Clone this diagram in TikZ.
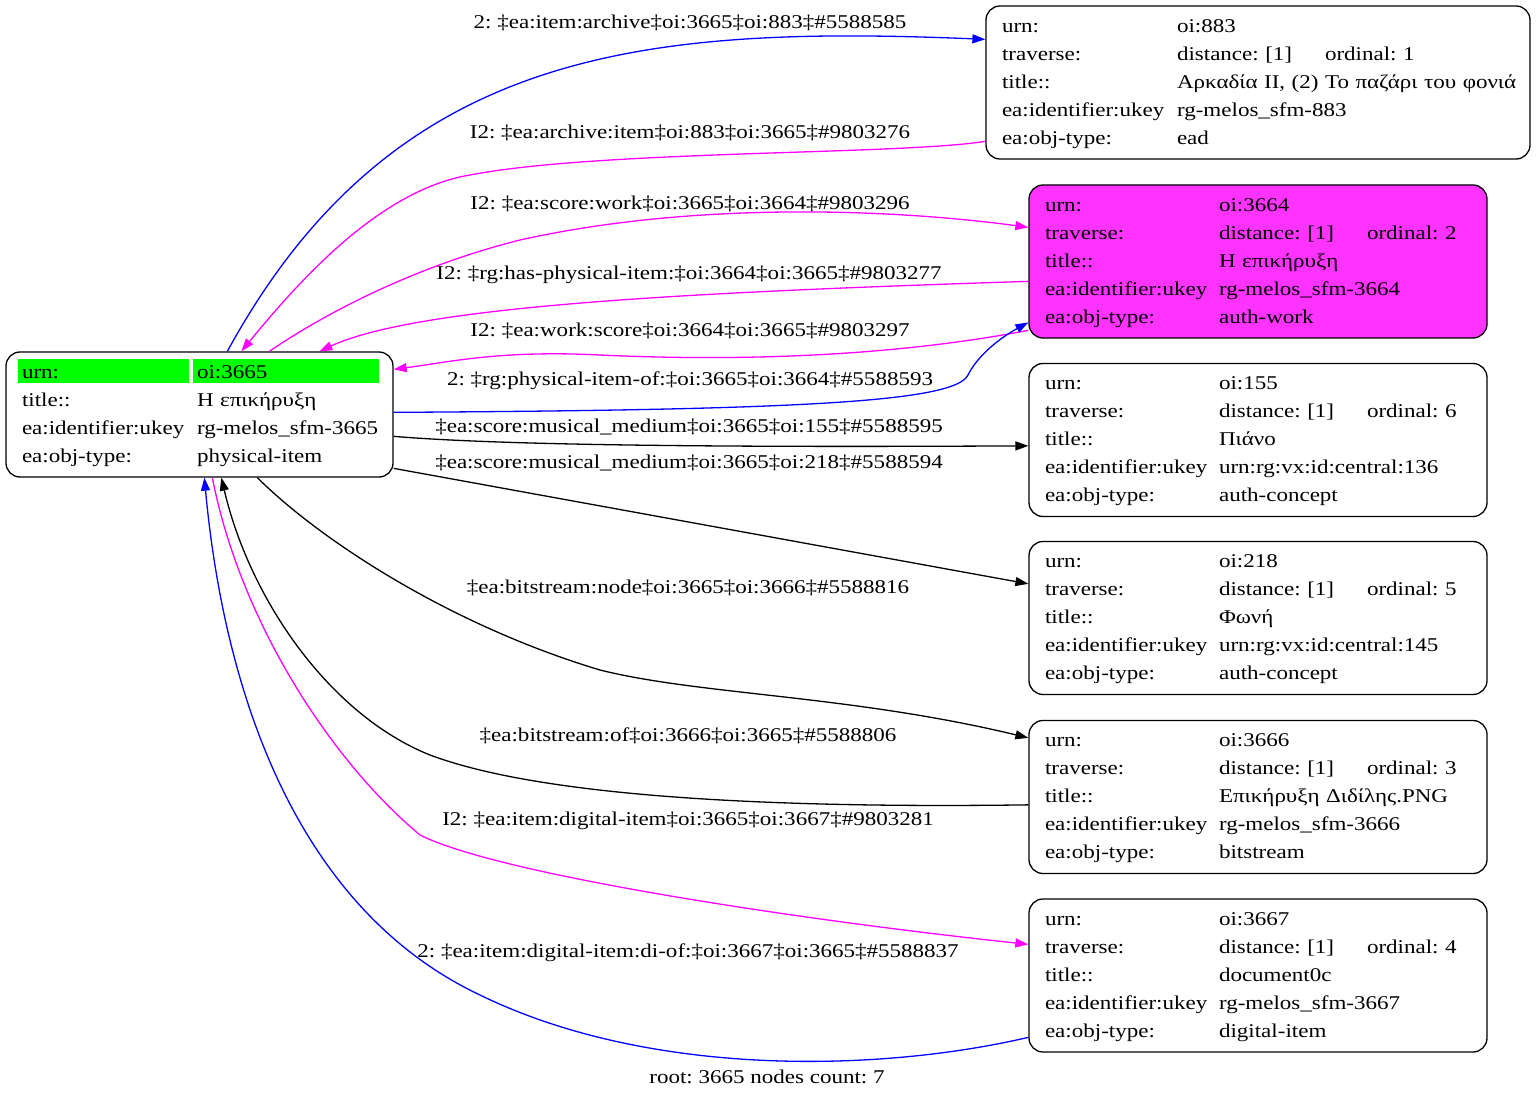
\documentclass[tikz,border=0pt]{standalone}
\usepackage{fontspec}
\setmainfont{Liberation Serif}[FakeStretch=1.18]
\usepackage{array}
\usetikzlibrary{arrows.meta,calc,backgrounds}

\definecolor{workfill}{RGB}{255,51,255}
\definecolor{rootgreen}{RGB}{0,255,0}
\definecolor{edgeblue}{RGB}{0,0,255}
\definecolor{edgemag}{RGB}{255,0,255}

\newcommand{\trav}[2]{\makebox[148pt][l]{distance: [#1]}ordinal: #2}
\frenchspacing

\begin{document}
\begin{tikzpicture}[x=1pt,y=-1pt,
    font=\fontsize{19.5}{28}\selectfont,
    rec/.style={draw, line width=1.3pt, rounded corners=14pt, inner xsep=16pt, inner ysep=6.5pt, text width=#1, align=left},
    lbl/.style={inner sep=0pt},
    link/.style={line width=1.3pt, -{Triangle[length=13pt,width=9pt]}}]
    \useasboundingbox (0,0) rectangle (1536,1099);

    \node[rec=355pt] (root) at (199.5,414.5) {\begin{tabular}{@{}p{175pt}@{}l@{}}
        urn: & oi:3665\\
        title:: & Η επικήρυξη\\
        ea:identifier:ukey & rg-melos\_sfm-3665\\
        ea:obj-type: & physical-item
    \end{tabular}};
    \begin{scope}[on background layer]
        \fill[rootgreen] ($(root.north west)+(13,8)$) rectangle ($(root.north west)+(184,32)$);
        \fill[rootgreen] ($(root.north west)+(188,8)$) rectangle ($(root.north west)+(374,32)$);
    \end{scope}

    \node[rec=512pt] (n883) at (1258,82.5) {\begin{tabular}{@{}p{175pt}@{}l@{}}
        urn: & oi:883\\
        traverse: & \trav{1}{1}\\
        title:: & Αρκαδία II, (2) Το παζάρι του φονιά\\
        ea:identifier:ukey & rg-melos\_sfm-883\\
        ea:obj-type: & ead
    \end{tabular}};
    \node[rec=426pt, fill=workfill] (n3664) at (1258,261.5) {\begin{tabular}{@{}p{174pt}@{}l@{}}
        urn: & oi:3664\\
        traverse: & \trav{1}{2}\\
        title:: & Η επικήρυξη\\
        ea:identifier:ukey & rg-melos\_sfm-3664\\
        ea:obj-type: & auth-work
    \end{tabular}};
    \node[rec=426pt] (n155) at (1258,440) {\begin{tabular}{@{}p{174pt}@{}l@{}}
        urn: & oi:155\\
        traverse: & \trav{1}{6}\\
        title:: & Πιάνο\\
        ea:identifier:ukey & urn:rg:vx:id:central:136\\
        ea:obj-type: & auth-concept
    \end{tabular}};
    \node[rec=426pt] (n218) at (1258,618) {\begin{tabular}{@{}p{174pt}@{}l@{}}
        urn: & oi:218\\
        traverse: & \trav{1}{5}\\
        title:: & Φωνή\\
        ea:identifier:ukey & urn:rg:vx:id:central:145\\
        ea:obj-type: & auth-concept
    \end{tabular}};
    \node[rec=426pt] (n3666) at (1258,797) {\begin{tabular}{@{}p{174pt}@{}l@{}}
        urn: & oi:3666\\
        traverse: & \trav{1}{3}\\
        title:: & Επικήρυξη Διδίλης.PNG\\
        ea:identifier:ukey & rg-melos\_sfm-3666\\
        ea:obj-type: & bitstream
    \end{tabular}};
    \node[rec=426pt] (n3667) at (1258,975.5) {\begin{tabular}{@{}p{174pt}@{}l@{}}
        urn: & oi:3667\\
        traverse: & \trav{1}{4}\\
        title:: & document0c\\
        ea:identifier:ukey & rg-melos\_sfm-3667\\
        ea:obj-type: & digital-item
    \end{tabular}};

    \node[lbl] (l1) at (690,23) {2: ‡ea:item:archive‡oi:3665‡oi:883‡\#5588585};
    \node[lbl] (l2) at (690,133) {I2: ‡ea:archive:item‡oi:883‡oi:3665‡\#9803276};
    \node[lbl] (l3) at (690,204) {I2: ‡ea:score:work‡oi:3665‡oi:3664‡\#9803296};
    \node[lbl] (l4) at (689,275) {I2: ‡rg:has-physical-item:‡oi:3664‡oi:3665‡\#9803277};
    \node[lbl] (l5) at (690,331) {I2: ‡ea:work:score‡oi:3664‡oi:3665‡\#9803297};
    \node[lbl] (l6) at (690,381) {2: ‡rg:physical-item-of:‡oi:3665‡oi:3664‡\#5588593};
    \node[lbl] (l7) at (689,427) {‡ea:score:musical\_medium‡oi:3665‡oi:155‡\#5588595};
    \node[lbl] (l8) at (689,463) {‡ea:score:musical\_medium‡oi:3665‡oi:218‡\#5588594};
    \node[lbl] (l9) at (688,588) {‡ea:bitstream:node‡oi:3665‡oi:3666‡\#5588816};
    \node[lbl] (l10) at (688,736) {‡ea:bitstream:of‡oi:3666‡oi:3665‡\#5588806};
    \node[lbl] (l11) at (688,821) {I2: ‡ea:item:digital-item‡oi:3665‡oi:3667‡\#9803281};
    \node[lbl] (l12) at (688,953) {2: ‡ea:item:digital-item:di-of:‡oi:3667‡oi:3665‡\#5588837};
    \node[lbl] (count) at (767,1077) {root: 3665 nodes count: 7};

    \draw[link, edgeblue] ($(root.north west)+(222,0)$) .. controls (392,50) and (640,25) .. ($(n883.north west)+(0,34)$);
    \draw[link, edgemag] ($(n883.north west)+(0,136)$) .. controls (900,155) and (600,150) .. (470,175) .. controls (380,190) and (300,280) .. ($(root.north west)+(236,0)$);
    \draw[link, edgemag] ($(root.north west)+(264,0)$) .. controls (330,310) and (420,265) .. (520,240) .. controls (700,200) and (900,210) .. ($(n3664.north west)+(0,43)$);
    \draw[link, edgemag] ($(n3664.north west)+(0,97)$) .. controls (700,292) and (420,305) .. ($(root.north west)+(314,0)$);
    \draw[link, edgemag] ($(n3664.north west)+(0,146)$) .. controls (900,355) and (750,362) .. (600,355) .. controls (500,350) and (450,362) .. ($(root.north east)+(0,18)$);
    \draw[link, edgeblue] ($(root.north east)+(0,61)$) .. controls (800,410) and (955,402) .. (968,375) .. controls (978,355) and (1000,338) .. ($(n3664.north west)+(0,138)$);
    \draw[link] ($(root.north east)+(0,85)$) .. controls (520,447) and (800,447) .. ($(n155.north west)+(0,83)$);
    \draw[link] ($(root.north east)+(0,117)$) -- ($(n218.north west)+(0,43)$);
    \draw[link] ($(root.south west)+(252,0)$) .. controls (320,540) and (450,625) .. (600,670) .. controls (700,695) and (850,695) .. ($(n3666.north west)+(0,18)$);
    \draw[link] ($(n3666.north west)+(0,85)$) .. controls (800,808) and (550,800) .. (430,755) .. controls (330,715) and (250,600) .. ($(root.south west)+(216,0)$);
    \draw[link, edgemag] ($(root.south west)+(207,0)$) .. controls (240,620) and (330,760) .. (420,835) .. controls (500,875) and (800,920) .. ($(n3667.north west)+(0,46)$);
    \draw[link, edgeblue] ($(n3667.north west)+(0,139)$) .. controls (880,1072) and (650,1078) .. (480,995) .. controls (300,910) and (225,700) .. ($(root.south west)+(199,0)$);
\end{tikzpicture}
\end{document}
